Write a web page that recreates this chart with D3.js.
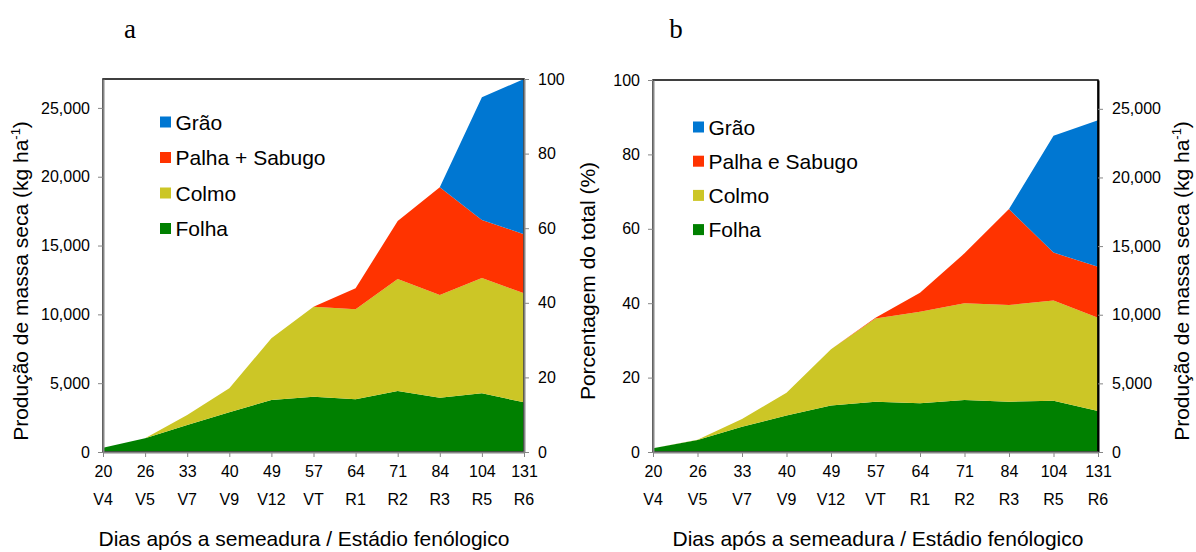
<!DOCTYPE html>
<html>
<head>
<meta charset="utf-8">
<script src="https://cdn.jsdelivr.net/npm/d3@7"></script>
<style>
  body { margin: 0; background: #fff; }
  text { fill: #000; }
</style>
</head>
<body>
<svg id="chart" width="1196" height="552" font-family="Arial, 'Liberation Sans', sans-serif"></svg>
<script>
// dias apos a semeadura e estadio fenologico
const days = ["20", "26", "33", "40", "49", "57", "64", "71", "84", "104", "131"];
const stages = ["V4", "V5", "V7", "V9", "V12", "VT", "R1", "R2", "R3", "R5", "R6"];

// painel a: kg/ha por componente
const folhaA = [300, 1000, 1960, 2880, 3780, 4020, 3830, 4430, 3950, 4260, 3610];
const colmoA = [0, 0, 730, 1750, 4480, 6540, 6540, 8140, 7460, 8380, 7920];
const palhaA = [0, 0, 0, 0, 0, 0, 1520, 4220, 7820, 4220, 4290];
const graoA  = [0, 0, 0, 0, 0, 0, 0, 0, 0, 8910, 11280];

// painel b: % do total por componente
const folhaB = [1.0, 3.2, 6.8, 9.8, 12.5, 13.5, 13.1, 14.0, 13.5, 13.8, 11.0];
const colmoB = [0, 0.1, 2.1, 6.1, 15.1, 22.4, 24.6, 26.0, 26.0, 26.9, 25.1];
const palhaB = [0, 0, 0, 0, 0, 0.2, 5.1, 13.4, 25.8, 12.9, 13.7];
const graoB  = [0, 0, 0, 0, 0, 0, 0, 0, 0, 31.4, 39.4];

const kgTicks = [0, 5000, 10000, 15000, 20000, 25000];
const pctTicks = [0, 20, 40, 60, 80, 100];
const KG_MAX = 27100;

const keys = ["folha", "colmo", "palha", "grao"];
const colors = {folha: "#008000", colmo: "#CCC626", palha: "#FF3300", grao: "#0077D2"};

const svg = d3.select("#chart");
const AXIS_GRAY = "#868686";
const SANS = "Arial, 'Liberation Sans', sans-serif";

const drawPanel = (opts) => {
    const {left, right, top, bottom} = opts;
    const g = svg.append("g");

    const x = d3.scalePoint().domain(days).range([left, right]);
    const yKg = d3.scaleLinear().domain([0, KG_MAX]).range([bottom, top]);
    const yPct = d3.scaleLinear().domain([0, 100]).range([bottom, top]);
    const yData = opts.dataInKg ? yKg : yPct;

    const rows = days.map((d, i) => ({
        day: d,
        folha: opts.series.folha[i],
        colmo: opts.series.colmo[i],
        palha: opts.series.palha[i],
        grao: opts.series.grao[i]
    }));
    const stacked = d3.stack().keys(keys)(rows);

    const area = d3.area()
        .x(d => x(d.data.day))
        .y0(d => yData(d[0]))
        .y1(d => yData(d[1]));

    g.selectAll(".layer")
        .data(stacked)
        .join("path")
        .attr("class", "layer")
        .attr("fill", d => colors[d.key])
        .attr("d", area);

    // moldura
    g.append("rect")
        .attr("x", left).attr("y", top)
        .attr("width", right - left).attr("height", bottom - top)
        .attr("fill", "none").attr("stroke", "#000").attr("stroke-width", 1.5);

    const leftScale = opts.dataInKg ? yKg : yPct;
    const rightScale = opts.dataInKg ? yPct : yKg;
    const leftTicks = opts.dataInKg ? kgTicks : pctTicks;
    const rightTicks = opts.dataInKg ? pctTicks : kgTicks;
    const kgFmt = d3.format(",");

    const leftAxis = d3.axisLeft(leftScale).tickValues(leftTicks)
        .tickSize(5).tickSizeOuter(0).tickPadding(8)
        .tickFormat(opts.dataInKg ? kgFmt : d3.format("d"));
    const rightAxis = d3.axisRight(rightScale).tickValues(rightTicks)
        .tickSize(5).tickSizeOuter(0).tickPadding(9)
        .tickFormat(opts.dataInKg ? d3.format("d") : kgFmt);
    const xAxis = d3.axisBottom(x).tickSize(5).tickSizeOuter(0).tickPadding(9);

    const style = (sel) => {
        sel.attr("font-family", SANS).attr("font-size", 16);
        sel.select(".domain").attr("stroke", AXIS_GRAY).attr("stroke-width", 2);
        sel.selectAll(".tick line").attr("stroke", AXIS_GRAY);
    };

    g.append("g").attr("transform", `translate(${left},0)`).call(leftAxis).call(style);
    g.append("g").attr("transform", `translate(${right},0)`).call(rightAxis).call(style)
        .select(".domain").attr("stroke", opts.rightBlack ? "#000" : AXIS_GRAY);
    g.append("g").attr("transform", `translate(0,${bottom})`).call(xAxis).call(style);

    // estadios
    g.selectAll(".stage")
        .data(stages)
        .join("text")
        .attr("class", "stage")
        .attr("x", (d, i) => x(days[i]))
        .attr("y", bottom + 53)
        .attr("text-anchor", "middle")
        .attr("font-size", 16)
        .text(d => d);

    // titulo do eixo x
    g.append("text")
        .attr("x", opts.xTitleX)
        .attr("y", 546)
        .attr("text-anchor", "middle")
        .attr("font-size", 21)
        .text("Dias após a semeadura / Estádio fenólogico");

    // letra do painel
    g.append("text")
        .attr("x", opts.letterX).attr("y", 38)
        .attr("text-anchor", "middle")
        .style("font-family", "'Liberation Serif', 'Times New Roman', serif")
        .attr("font-size", 27)
        .text(opts.letter);

    // legenda
    const legendItems = [
        {key: "grao", label: "Grão"},
        {key: "palha", label: opts.palhaLabel},
        {key: "colmo", label: "Colmo"},
        {key: "folha", label: "Folha"}
    ];
    const lg = g.selectAll(".leg")
        .data(legendItems)
        .join("g")
        .attr("class", "leg")
        .attr("transform", (d, i) => `translate(${opts.legX},${opts.legY + i * opts.legStep})`);
    lg.append("rect")
        .attr("x", 0).attr("y", -5.5)
        .attr("width", 11).attr("height", 11)
        .attr("fill", d => colors[d.key]);
    lg.append("text")
        .attr("x", 15.5).attr("y", 7.5)
        .attr("font-size", 21)
        .text(d => d.label);
};

const kgTitle = (sel) => {
    sel.append("tspan").text("Produção de massa seca (kg ha");
    sel.append("tspan").attr("dy", -8).attr("font-size", 13).text("-1");
    sel.append("tspan").attr("dy", 8).text(")");
};

drawPanel({
    left: 103, right: 524, top: 79, bottom: 452,
    dataInKg: true,
    series: {folha: folhaA, colmo: colmoA, palha: palhaA, grao: graoA},
    palhaLabel: "Palha + Sabugo",
    legX: 160, legY: 122, legStep: 35.5,
    xTitleX: 304, letterX: 130, letter: "a",
    rightBlack: false
});

drawPanel({
    left: 653, right: 1098, top: 80, bottom: 452,
    dataInKg: false,
    series: {folha: folhaB, colmo: colmoB, palha: palhaB, grao: graoB},
    palhaLabel: "Palha e Sabugo",
    legX: 693, legY: 127, legStep: 34.2,
    xTitleX: 878, letterX: 676, letter: "b",
    rightBlack: true
});

// titulos dos eixos y
svg.append("text")
    .attr("transform", "translate(27.5,281) rotate(-90)")
    .attr("text-anchor", "middle")
    .attr("font-size", 21)
    .call(kgTitle);

svg.append("text")
    .attr("transform", "translate(594.5,281) rotate(-90)")
    .attr("text-anchor", "middle")
    .attr("font-size", 21)
    .text("Porcentagem do total (%)");

svg.append("text")
    .attr("transform", "translate(1188.5,281) rotate(-90)")
    .attr("text-anchor", "middle")
    .attr("font-size", 21)
    .call(kgTitle);
</script>
</body>
</html>
